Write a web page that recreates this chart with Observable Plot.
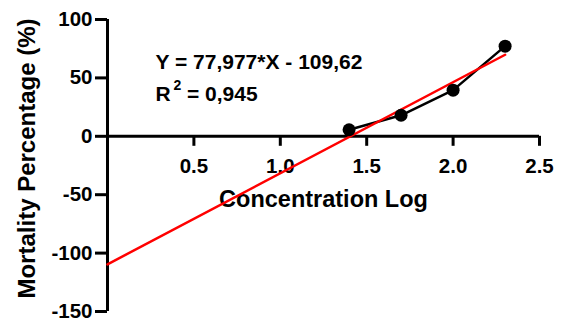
<!DOCTYPE html>
<html>
<head>
<meta charset="utf-8">
<script src="https://cdn.jsdelivr.net/npm/d3@7"></script>
<script src="https://cdn.jsdelivr.net/npm/@observablehq/plot@0.6"></script>
<style>
  html, body { margin: 0; padding: 0; background: #fff; }
  svg { display: block; }
</style>
</head>
<body>
<div id="chart"></div>
<script>
const concLog = [1.398, 1.699, 2.0, 2.301];
const mortality = [5.6, 18, 39.5, 77.2];
const slope = 77.977;
const intercept = -109.62;
const xTicks = [0.5, 1.0, 1.5, 2.0, 2.5];
const yTicks = [-150, -100, -50, 0, 50, 100];
const xDomain = [0, 2.5];
const yDomain = [-150, 100];
const eqText = "Y = 77,977*X - 109,62";
const r2Value = "= 0,945";
const xTitle = "Concentration Log";
const yTitle = "Mortality Percentage (%)";

const points = concLog.map((x, i) => ({x, y: mortality[i]}));
const fit = [0, concLog[concLog.length - 1]].map(x => ({x, y: slope * x + intercept}));

const font = "Liberation Sans, Arial, sans-serif";

const chart = Plot.plot({
  width: 561,
  height: 320,
  marginLeft: 107,
  marginRight: 22,
  marginTop: 19,
  marginBottom: 9,
  style: {fontFamily: font, fontWeight: "bold", color: "black", background: "white", overflow: "visible"},
  x: {domain: xDomain, axis: null},
  y: {domain: yDomain},
  marks: [
    Plot.axisY({ticks: yTicks, tickSize: 12, tickPadding: 3, strokeWidth: 3, fontSize: 20.5, fontWeight: "bold", label: null, tickFormat: d => String(d).replace("−", "-")}),
    Plot.ruleX([0], {strokeWidth: 3}),
    Plot.ruleY([0], {strokeWidth: 3}),
    Plot.ruleX(xTicks, {x: d => d, y1: 0, y2: 0, insetBottom: -10, strokeWidth: 3}),
    Plot.text(xTicks, {x: d => d, y: 0, dy: 30, text: d => d.toFixed(1), fontSize: 20.5, fontWeight: "bold", fill: "black"}),
    Plot.text([xTitle], {x: (xDomain[0] + xDomain[1]) / 2, y: 0, dy: 63, text: d => d, fontSize: 23.5, fontWeight: "bold", fill: "black"}),
    Plot.text([yTitle], {frameAnchor: "left", dx: -80, dy: -7, rotate: -90, textAnchor: "middle", text: d => d, fontSize: 24, fontWeight: "bold", fill: "black"}),
    Plot.text([eqText], {frameAnchor: "top-left", dx: 48, dy: 35, textAnchor: "start", text: d => d, fontSize: 21, fontWeight: "bold", fill: "black"}),
    Plot.text(["R"], {frameAnchor: "top-left", dx: 48, dy: 67, textAnchor: "start", text: d => d, fontSize: 21, fontWeight: "bold", fill: "black"}),
    Plot.text(["2"], {frameAnchor: "top-left", dx: 66, dy: 61, textAnchor: "start", text: d => d, fontSize: 14, fontWeight: "bold", fill: "black"}),
    Plot.text([r2Value], {frameAnchor: "top-left", dx: 79.5, dy: 67, textAnchor: "start", text: d => d, fontSize: 21, fontWeight: "bold", fill: "black"}),
    Plot.line(points, {x: "x", y: "y", stroke: "black", strokeWidth: 2.5}),
    Plot.line(fit, {x: "x", y: "y", stroke: "#ff0000", strokeWidth: 2.5}),
    Plot.dot(points, {x: "x", y: "y", r: 6.5, fill: "black", stroke: "none"})
  ]
});
document.getElementById("chart").appendChild(chart);
</script>
</body>
</html>
